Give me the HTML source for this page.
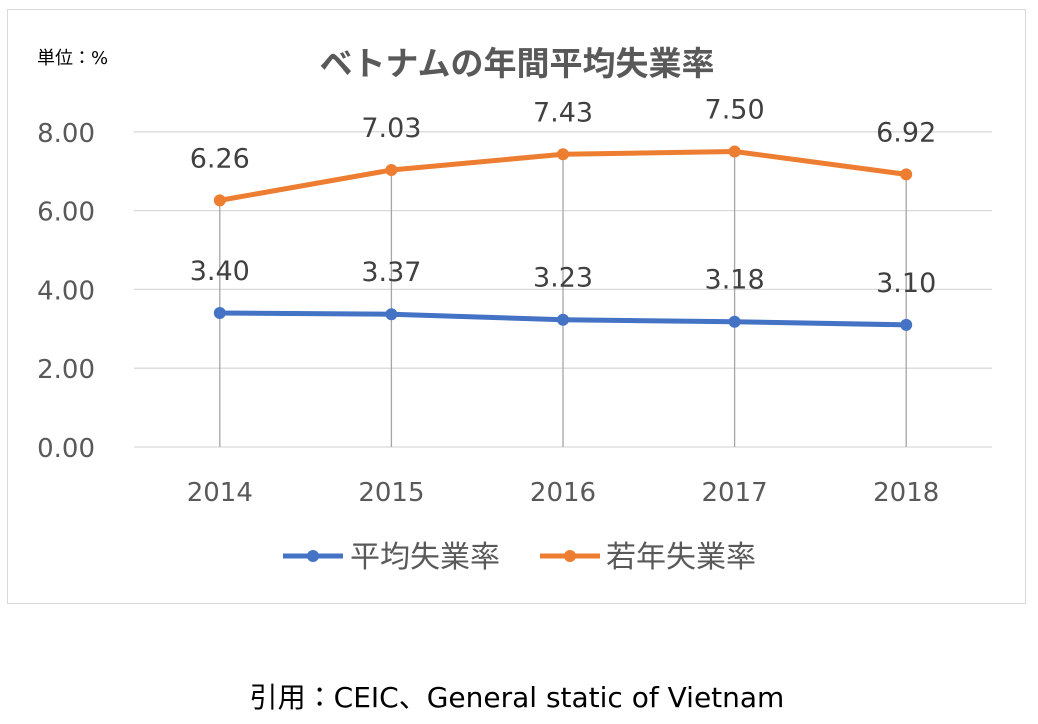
<!DOCTYPE html>
<html><head><meta charset="utf-8">
<style>
body{margin:0;background:#fff;width:1038px;height:720px;overflow:hidden;font-family:"DejaVu Sans","Noto Sans CJK JP",sans-serif;}
svg text{font-family:"DejaVu Sans","Noto Sans CJK JP",sans-serif;}
</style></head>
<body>
<svg id="chart" width="1038" height="720">
<rect x="7.5" y="9.5" width="1018" height="594" fill="#fff" stroke="#d9d9d9"/>
<text x="37" y="64" font-size="18" fill="#000">単位：%</text>
<text x="517" y="75" font-size="33" font-weight="bold" fill="#595959" text-anchor="middle">ベトナムの年間平均失業率</text>
<g id="grid"></g><g id="drops"></g><g id="series"></g><g id="labels"></g>
<g>
<g>
<line x1="283" y1="556" x2="343" y2="556" stroke="#4472c4" stroke-width="5"/><circle cx="313" cy="556" r="6" fill="#4472c4"/>
<text x="350" y="567" font-size="30" fill="#595959">平均失業率</text></g>
<g>
<line x1="540" y1="556" x2="600" y2="556" stroke="#ed7d31" stroke-width="5"/><circle cx="570" cy="556" r="6" fill="#ed7d31"/>
<text x="606" y="567" font-size="30" fill="#595959">若年失業率</text></g>
</g>
<text x="517" y="707" font-size="28" fill="#000" text-anchor="middle">引用：CEIC、General static of Vietnam</text>
</svg>
<script>
const categories=["2014","2015","2016","2017","2018"];
const averageRate=[3.40,3.37,3.23,3.18,3.10];
const youthRate=[6.26,7.03,7.43,7.50,6.92];
const yTicks=[0,2,4,6,8];
const NS="http://www.w3.org/2000/svg";
const x0=134,x1=992,y0=447,pxPer=39.4;
const xs=i=>x0+(x1-x0)/categories.length*(i+0.5);
const ys=v=>y0-v*pxPer;
function mk(tag,attrs,parent){const e=document.createElementNS(NS,tag);for(const k in attrs)e.setAttribute(k,attrs[k]);document.getElementById(parent).appendChild(e);return e;}
yTicks.forEach(t=>{
 const l=mk("line",{x1:x0,x2:x1,y1:ys(t),y2:ys(t),stroke:"#d9d9d9","stroke-width":1.3},"grid");
 
 
 const tx=mk("text",{x:95,y:ys(t)+10,"font-size":26,fill:"#595959","text-anchor":"end"},"grid");
 tx.textContent=t.toFixed(2);
 
 
});
categories.forEach((c,i)=>{
 const tx=mk("text",{x:xs(i),y:501,"font-size":26,fill:"#595959","text-anchor":"middle"},"grid");
 tx.textContent=c;
 
 
 const d=mk("line",{x1:xs(i),x2:xs(i),y1:ys(Math.max(averageRate[i],youthRate[i])),y2:y0,stroke:"#a6a6a6","stroke-width":1.3},"drops");
 
 
});
function series(vals,color,name){
 const p=mk("polyline",{points:vals.map((v,i)=>xs(i)+","+ys(v)).join(" "),fill:"none",stroke:color,"stroke-width":5,"stroke-linejoin":"round"},"series");
 
 
 vals.forEach((v,i)=>{
  const c=mk("circle",{cx:xs(i),cy:ys(v),r:6,fill:color},"series");
  
  
  const t=mk("text",{x:xs(i),y:ys(v)-33,"font-size":27,fill:"#404040","text-anchor":"middle"},"labels");
  t.textContent=v.toFixed(2);
  
  
 });
}
series(averageRate,"#4472c4","average");
series(youthRate,"#ed7d31","youth");
</script>
</body></html>
